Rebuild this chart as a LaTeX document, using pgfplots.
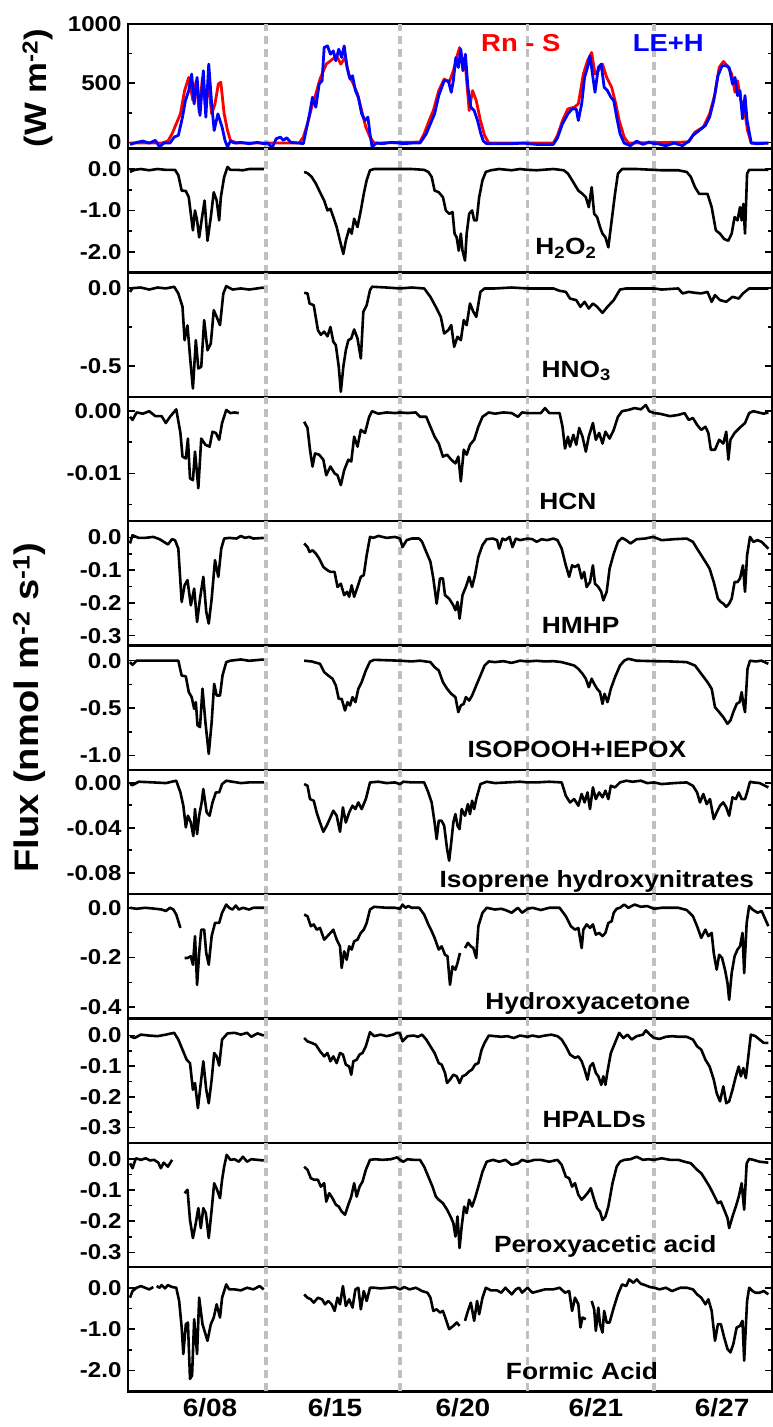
\documentclass[border=0pt]{standalone}
\usepackage{fontspec}
\setmainfont{Liberation Sans}[FakeStretch=1.12]
\usepackage{pgfplots}
\pgfplotsset{compat=1.18}
\definecolor{dgray}{RGB}{192,192,192}
\newcommand\tickfont{\bfseries\fontsize{21.5}{24}\selectfont}
\newcommand\xtickfont{\bfseries\fontsize{25}{28}\selectfont}
\newcommand\labfont{\bfseries\fontsize{23.5}{26}\selectfont}
\newcommand\ylabfont{\bfseries\fontsize{34}{36}\selectfont}
\tikzset{dline/.style={dgray, line width=3.6pt, dash pattern=on 8pt off 5pt}}
\newcommand\vlines{%
 \draw[dline] ({axis cs:350,0}|-{rel axis cs:0,0}) -- ({axis cs:350,0}|-{rel axis cs:0,1});
 \draw[dline] ({axis cs:672,0}|-{rel axis cs:0,0}) -- ({axis cs:672,0}|-{rel axis cs:0,1});
 \draw[dline] ({axis cs:978,0}|-{rel axis cs:0,0}) -- ({axis cs:978,0}|-{rel axis cs:0,1});
 \draw[dline] ({axis cs:1282,0}|-{rel axis cs:0,0}) -- ({axis cs:1282,0}|-{rel axis cs:0,1});}
\pgfplotsset{
 panel/.style={scale only axis, width=644pt, height=124.3pt, anchor=north west,
  xmin=19.2, xmax=1564.8, xtick={216,516,823,1142,1445}, xticklabels={},
  xtick style={draw=none},
  tick align=inside, ytick pos=both, yticklabel pos=left,
  axis line style={line width=2.4pt},
  ytick style={line width=1.6pt, black},
  major tick length=7pt, minor tick length=4pt,
  y tick label style={font=\tickfont, xshift=-3pt},
  x tick label style={font=\xtickfont, yshift=-4pt},
  /pgf/number format/assume math mode=true,
  /pgf/number format/1000 sep={},
  scaled y ticks=false,
  unbounded coords=jump, clip mode=individual,
  cycle list={{black, mark=none}},
  every axis plot/.append style={line width=2.6pt, line join=round},
 },
 p1/.style={y tick label style={/pgf/number format/fixed, /pgf/number format/fixed zerofill, /pgf/number format/precision=1}},
 p2/.style={y tick label style={/pgf/number format/fixed, /pgf/number format/fixed zerofill, /pgf/number format/precision=2}},
}
\begin{document}
\begin{tikzpicture}
\path[use as bounding box] (-128pt,24pt) rectangle (645pt,-1403pt);
% ---------------- Energy
\begin{axis}[panel, at={(0pt,0pt)}, ymin=-50, ymax=1000, ytick={0,500,1000}, minor ytick={250,750}]
\vlines
\addplot[red, line width=2.8pt, mark=none] coordinates {(24,-6) (100,-6) (115,11) (125,73) (135,157) (145,241) (155,437) (165,549) (175,353) (183,521) (190,255) (198,549) (205,297) (212,507) (220,241) (228,325) (236,493) (242,507) (250,241) (258,101) (265,17) (280,-6) (430,-6) (440,45) (450,157) (460,297) (470,409) (480,535) (495,661) (510,703) (520,731) (530,661) (540,717) (550,563) (560,493) (570,409) (580,269) (590,129) (600,45) (610,-6) (720,3) (730,73) (742,185) (752,269) (765,437) (778,535) (790,507) (800,605) (808,717) (815,801) (822,689) (830,605) (838,269) (846,437) (855,353) (865,185) (875,59) (885,-6) (1040,-6) (1050,59) (1062,185) (1075,283) (1090,297) (1100,325) (1112,577) (1122,689) (1132,759) (1140,577) (1148,605) (1158,661) (1168,549) (1180,465) (1190,325) (1198,185) (1210,45) (1220,-6) (1365,3) (1380,87) (1400,129) (1415,241) (1428,409) (1438,633) (1448,683) (1458,647) (1468,577) (1476,423) (1482,521) (1490,353) (1498,297) (1506,101) (1515,-6) (1556,-6)};
\addplot[blue, line width=2.8pt, mark=none] coordinates {(24,-17) (40,0) (55,11) (70,-6) (85,17) (95,-39) (105,-6) (120,-6) (130,45) (140,59) (150,213) (157,353) (165,437) (172,577) (178,325) (185,549) (192,227) (200,605) (206,213) (213,661) (220,325) (226,101) (235,241) (245,129) (252,17) (258,-39) (265,11) (275,-6) (290,0) (310,-11) (330,0) (345,-11) (355,-6) (365,-45) (375,31) (385,45) (392,17) (400,39) (410,0) (430,-6) (440,-11) (445,73) (455,241) (462,381) (470,297) (478,493) (485,521) (490,801) (498,815) (505,745) (512,773) (518,689) (525,787) (532,717) (538,815) (545,633) (552,535) (558,563) (565,437) (572,381) (580,241) (588,185) (595,213) (600,73) (605,-39) (615,-6) (630,-11) (650,0) (670,-6) (680,-11) (700,-6) (720,-6) (735,73) (745,157) (755,241) (765,395) (778,521) (788,521) (795,423) (800,521) (806,717) (812,633) (818,787) (823,605) (829,745) (835,465) (842,297) (850,269) (858,185) (866,73) (872,11) (880,-11) (900,-11) (940,-11) (970,-6) (980,-11) (1000,-17) (1040,-17) (1050,39) (1062,157) (1075,241) (1085,283) (1095,283) (1100,185) (1108,325) (1115,549) (1122,633) (1128,731) (1135,549) (1140,423) (1148,633) (1155,661) (1162,465) (1170,437) (1178,381) (1185,353) (1192,213) (1200,73) (1210,-6) (1225,-28) (1240,11) (1255,-17) (1270,3) (1282,-11) (1290,-11) (1310,-28) (1330,-6) (1350,-28) (1365,11) (1375,59) (1390,101) (1405,143) (1415,213) (1425,353) (1435,563) (1445,647) (1455,647) (1462,633) (1470,493) (1476,549) (1482,395) (1488,437) (1494,199) (1500,395) (1505,185) (1515,-6) (1530,-11) (1556,-6)};
\node[anchor=base, font=\labfont\fontsize{24.5}{26}\selectfont, text=red] at (rel axis cs:0.61,0.775) {Rn - S};
\node[anchor=base, font=\labfont\fontsize{24.5}{26}\selectfont, text=blue] at (rel axis cs:0.839,0.775) {LE+H};
\node[rotate=90, font=\ylabfont\fontsize{31}{33}\selectfont] at (rel axis cs:-0.14,0.485) {(W m\textsuperscript{-2})};
\end{axis}
% ---------------- H2O2
\begin{axis}[panel, p1, at={(0pt,-124.3pt)}, ymin=-2.5, ymax=0.5, ytick={0,-1,-2}, minor ytick={-0.5,-1.5}]
\vlines
\addplot coordinates {(24,-0.07) (35,-0.02) (50,0) (70,-0.03) (90,0) (110,-0.02) (132,-0.02) (140,-0.15) (148,-0.52) (158,-0.53) (165,-0.68) (170,-1.08) (175,-1.48) (180,-1.0) (185,-1.24) (190,-1.65) (197,-1.16) (203,-0.76) (210,-1.73) (218,-1.16) (225,-0.56) (232,-0.76) (238,-1.24) (242,-0.68) (250,-0.19) (258,0.05) (265,-0.02) (280,-0.02) (295,-0.03) (310,0) (345,0) (400,nan) (442,-0.07) (450,-0.1) (460,-0.19) (470,-0.35) (480,-0.56) (490,-0.76) (498,-1.0) (505,-0.96) (512,-1.16) (520,-1.40) (528,-1.73) (536,-2.05) (542,-1.73) (550,-1.44) (556,-1.56) (562,-1.20) (570,-1.40) (578,-1.0) (585,-0.60) (592,-0.27) (600,-0.03) (610,0) (650,0) (672,0) (700,0) (730,-0.02) (740,-0.07) (748,-0.19) (755,-0.52) (765,-0.56) (775,-0.68) (782,-1.0) (790,-1.08) (798,-1.04) (803,-1.56) (808,-1.65) (813,-1.97) (818,-1.56) (822,-1.97) (828,-2.21) (832,-1.56) (838,-1.08) (845,-1.0) (850,-1.24) (856,-1.24) (862,-0.68) (870,-0.27) (878,-0.07) (890,-0.03) (910,0) (940,-0.03) (960,0) (978,-0.02) (1000,-0.03) (1040,0) (1065,-0.03) (1075,-0.11) (1085,-0.27) (1100,-0.52) (1110,-0.60) (1118,-0.68) (1125,-0.92) (1132,-0.44) (1138,-1.08) (1145,-1.16) (1152,-1.40) (1158,-1.56) (1165,-1.65) (1172,-1.89) (1180,-1.24) (1188,-0.60) (1195,-0.11) (1205,0) (1240,0) (1280,-0.02) (1300,-0.03) (1340,-0.03) (1360,-0.07) (1370,-0.19) (1380,-0.44) (1390,-0.60) (1410,-0.60) (1420,-0.92) (1430,-1.48) (1440,-1.56) (1450,-1.69) (1460,-1.73) (1468,-1.56) (1475,-1.16) (1482,-1.24) (1488,-0.92) (1492,-1.24) (1496,-0.84) (1500,-1.56) (1505,-0.11) (1510,-0.02) (1530,-0.02) (1556,-0.02)};
\node[anchor=base, font=\labfont] at (rel axis cs:0.68,0.147) {H\textsubscript{2}O\textsubscript{2}};
\end{axis}
% ---------------- HNO3
\begin{axis}[panel, p1, at={(0pt,-248.6pt)}, ymin=-0.7, ymax=0.1, ytick={0,-0.5}, minor ytick={-0.25}]
\vlines
\addplot coordinates {(24,-0.024) (30,0) (50,0.004) (70,-0.009) (90,0.004) (110,-0.002) (130,0.009) (140,-0.034) (150,-0.12) (155,-0.335) (162,-0.24) (168,-0.44) (175,-0.646) (182,-0.335) (188,-0.517) (195,-0.506) (202,-0.206) (210,-0.40) (218,-0.356) (225,-0.142) (232,-0.185) (240,-0.238) (248,-0.034) (255,0.013) (270,-0.009) (290,-0.002) (310,-0.009) (345,0.004) (400,nan) (442,-0.03) (450,-0.034) (455,-0.099) (465,-0.11) (475,-0.27) (482,-0.30) (490,-0.28) (498,-0.31) (505,-0.25) (512,-0.345) (518,-0.367) (525,-0.506) (530,-0.667) (536,-0.506) (542,-0.40) (548,-0.335) (555,-0.324) (562,-0.266) (570,-0.324) (578,-0.453) (584,-0.152) (592,-0.11) (600,-0.013) (605,0.009) (640,0.004) (672,-0.002) (700,0.004) (730,-0.002) (745,-0.056) (760,-0.131) (770,-0.185) (778,-0.292) (788,-0.27) (795,-0.238) (802,-0.378) (810,-0.313) (818,-0.335) (825,-0.206) (832,-0.238) (840,-0.099) (848,-0.152) (855,-0.185) (865,-0.024) (875,-0.002) (900,-0.002) (940,0.004) (978,-0.002) (1000,-0.002) (1040,-0.002) (1055,-0.017) (1070,-0.024) (1080,-0.067) (1095,-0.077) (1105,-0.12) (1115,-0.088) (1125,-0.131) (1135,-0.099) (1145,-0.12) (1158,-0.159) (1170,-0.12) (1185,-0.077) (1200,-0.009) (1215,-0.002) (1250,-0.002) (1282,-0.002) (1300,-0.009) (1340,-0.002) (1350,-0.034) (1365,-0.024) (1380,-0.03) (1395,-0.034) (1410,-0.024) (1420,-0.088) (1428,-0.045) (1440,-0.077) (1455,-0.088) (1470,-0.056) (1485,-0.067) (1495,-0.034) (1510,-0.002) (1530,-0.002) (1556,-0.002)};
\node[anchor=base, font=\labfont] at (rel axis cs:0.696,0.159) {HNO\textsubscript{3}};
\end{axis}
% ---------------- HCN
\begin{axis}[panel, p2, at={(0pt,-372.9pt)}, ymin=-0.0177, ymax=0.0023, ytick={0,-0.01}, minor ytick={-0.005,-0.015}]
\vlines
\addplot coordinates {(24,-0.0009) (30,-0.0014) (40,-0.0002) (55,-0.0004) (70,0) (85,-0.0008) (100,-0.0008) (110,-0.0019) (120,-0.0009) (135,0.0003) (145,-0.0035) (150,-0.0073) (158,-0.0076) (163,-0.0044) (168,-0.0108) (175,-0.0111) (180,-0.0065) (188,-0.0124) (195,-0.0044) (205,-0.0054) (215,-0.0057) (222,-0.0033) (230,-0.0035) (238,-0.0046) (245,-0.0019) (255,0.0002) (265,-0.0003) (275,-0.0002) (285,-0.0003) (350,nan) (442,-0.0017) (450,-0.0027) (456,-0.0062) (462,-0.0089) (468,-0.0068) (478,-0.0070) (488,-0.0078) (495,-0.0103) (505,-0.0089) (515,-0.0100) (522,-0.0103) (530,-0.0119) (538,-0.0095) (548,-0.0078) (555,-0.0081) (562,-0.0041) (570,-0.0057) (578,-0.0030) (588,-0.0035) (598,-0.0009) (605,0) (620,-0.0004) (640,-0.0002) (660,-0.0003) (672,-0.0002) (690,-0.0003) (710,-0.0002) (720,-0.0009) (735,-0.0009) (745,-0.0025) (755,-0.0041) (765,-0.0052) (775,-0.0073) (785,-0.0070) (795,-0.0078) (805,-0.0084) (812,-0.0073) (818,-0.0113) (825,-0.0062) (832,-0.0070) (840,-0.0054) (850,-0.0046) (860,-0.0025) (870,-0.0009) (885,-0.0002) (900,-0.0004) (920,-0.0002) (940,-0.0003) (955,-0.0009) (965,-0.0002) (978,-0.0003) (990,-0.0003) (1010,-0.0003) (1020,0.0005) (1030,-0.0003) (1055,-0.0003) (1062,-0.0025) (1068,-0.0060) (1075,-0.0041) (1080,-0.0057) (1088,-0.0038) (1095,-0.0054) (1102,-0.0027) (1110,-0.0041) (1118,-0.0065) (1125,-0.0041) (1135,-0.0019) (1142,-0.0046) (1150,-0.0035) (1158,-0.0052) (1165,-0.0033) (1175,-0.0044) (1185,-0.0030) (1195,-0.0009) (1205,0) (1220,0.0002) (1235,0.0005) (1250,0.0003) (1262,0.0010) (1270,0) (1282,-0.0003) (1295,-0.0004) (1320,-0.0008) (1340,-0.0006) (1355,-0.0003) (1365,-0.0014) (1375,-0.0011) (1385,-0.0022) (1395,-0.0030) (1405,-0.0025) (1412,-0.0035) (1418,-0.0062) (1428,-0.0062) (1438,-0.0046) (1448,-0.0052) (1455,-0.0033) (1460,-0.0078) (1465,-0.0046) (1475,-0.0035) (1490,-0.0025) (1500,-0.0019) (1510,-0.0003) (1520,0) (1545,-0.0004) (1556,-0.0002)};
\node[anchor=base, font=\labfont] at (rel axis cs:0.683,0.091) {HCN};
\end{axis}
% ---------------- HMHP
\begin{axis}[panel, p1, at={(0pt,-497.2pt)}, ymin=-0.33, ymax=0.05, ytick={0,-0.1,-0.2,-0.3}, minor ytick={-0.05,-0.15,-0.25}]
\vlines
\addplot coordinates {(24,-0.018) (30,0.007) (45,-0.001) (60,-0.001) (80,0.002) (95,-0.005) (105,-0.013) (115,-0.021) (125,-0.005) (132,-0.008) (140,-0.034) (148,-0.197) (155,-0.146) (162,-0.13) (170,-0.207) (178,-0.156) (185,-0.258) (192,-0.187) (200,-0.12) (207,-0.227) (213,-0.263) (220,-0.187) (228,-0.069) (236,-0.12) (243,-0.034) (250,-0.003) (262,-0.001) (280,-0.003) (290,0.005) (300,-0.001) (310,0.002) (320,-0.003) (345,-0.001) (400,nan) (442,-0.018) (450,-0.029) (455,-0.044) (462,-0.039) (470,-0.049) (478,-0.064) (488,-0.09) (498,-0.10) (505,-0.105) (515,-0.105) (522,-0.151) (530,-0.141) (538,-0.176) (545,-0.166) (550,-0.181) (556,-0.146) (562,-0.181) (570,-0.151) (578,-0.12) (585,-0.115) (592,-0.054) (600,0.002) (608,-0.001) (620,0.005) (640,-0.001) (660,0.002) (672,-0.003) (678,-0.029) (688,-0.008) (700,-0.003) (718,-0.003) (725,-0.013) (735,-0.044) (745,-0.074) (752,-0.125) (760,-0.202) (768,-0.125) (775,-0.125) (780,-0.176) (790,-0.187) (800,-0.207) (805,-0.222) (810,-0.197) (815,-0.248) (822,-0.176) (830,-0.151) (838,-0.12) (845,-0.151) (852,-0.115) (860,-0.059) (870,-0.023) (880,-0.005) (895,-0.003) (905,-0.008) (910,-0.034) (918,-0.003) (925,-0.008) (935,0.002) (942,-0.029) (950,-0.003) (960,-0.008) (978,-0.003) (990,-0.005) (1000,-0.013) (1012,-0.005) (1025,-0.008) (1040,-0.003) (1050,-0.008) (1060,-0.034) (1070,-0.085) (1078,-0.12) (1085,-0.085) (1092,-0.09) (1100,-0.083) (1108,-0.125) (1114,-0.105) (1120,-0.151) (1128,-0.136) (1135,-0.085) (1140,-0.141) (1148,-0.151) (1155,-0.166) (1160,-0.192) (1168,-0.166) (1175,-0.095) (1185,-0.049) (1195,-0.013) (1205,-0.001) (1215,-0.008) (1225,-0.018) (1240,-0.005) (1260,-0.003) (1280,0.002) (1300,-0.008) (1330,-0.005) (1360,-0.003) (1375,-0.013) (1385,-0.034) (1395,-0.054) (1405,-0.074) (1415,-0.095) (1425,-0.136) (1435,-0.187) (1442,-0.197) (1448,-0.202) (1455,-0.212) (1462,-0.202) (1468,-0.187) (1475,-0.136) (1482,-0.136) (1488,-0.125) (1495,-0.085) (1500,-0.166) (1505,-0.054) (1512,0.002) (1520,-0.013) (1530,-0.008) (1540,-0.013) (1556,-0.034)};
\node[anchor=base, font=\labfont] at (rel axis cs:0.703,0.099) {HMHP};
\end{axis}
% ---------------- ISOPOOH+IEPOX
\begin{axis}[panel, p1, at={(0pt,-621.5pt)}, ymin=-1.15, ymax=0.16, ytick={0,-0.5,-1}, minor ytick={-0.25,-0.75}]
\vlines
\addplot coordinates {(24,-0.015) (30,-0.044) (40,0) (80,0) (140,0) (148,-0.157) (158,-0.165) (165,-0.33) (172,-0.384) (178,-0.507) (182,-0.437) (186,-0.68) (192,-0.70) (198,-0.296) (205,-0.648) (213,-0.982) (220,-0.648) (226,-0.244) (232,-0.367) (240,-0.367) (246,-0.157) (255,-0.015) (265,0) (290,0.013) (310,-0.001) (345,0.013) (400,nan) (442,0) (460,-0.008) (480,-0.033) (490,-0.12) (500,-0.157) (510,-0.19) (518,-0.26) (525,-0.402) (532,-0.402) (540,-0.525) (546,-0.437) (552,-0.472) (558,-0.384) (565,-0.437) (572,-0.296) (580,-0.226) (590,-0.103) (600,-0.01) (610,0.009) (672,0) (700,-0.008) (720,0) (745,-0.015) (755,-0.068) (765,-0.103) (775,-0.226) (785,-0.296) (795,-0.349) (805,-0.384) (812,-0.542) (818,-0.472) (825,-0.455) (830,-0.384) (838,-0.42) (845,-0.367) (855,-0.261) (865,-0.157) (875,-0.051) (885,-0.008) (900,-0.015) (920,-0.005) (940,-0.023) (960,0) (978,-0.008) (1000,-0.001) (1020,-0.008) (1040,-0.005) (1060,-0.015) (1075,-0.033) (1090,-0.051) (1100,-0.086) (1110,-0.138) (1118,-0.19) (1125,-0.279) (1132,-0.19) (1138,-0.244) (1145,-0.296) (1152,-0.331) (1158,-0.455) (1163,-0.349) (1170,-0.437) (1178,-0.296) (1188,-0.174) (1200,-0.051) (1210,0) (1220,0.02) (1240,0) (1280,-0.005) (1320,-0.008) (1360,-0.015) (1380,-0.051) (1395,-0.138) (1410,-0.226) (1420,-0.296) (1428,-0.49) (1438,-0.542) (1448,-0.596) (1458,-0.665) (1465,-0.63) (1472,-0.542) (1480,-0.455) (1487,-0.437) (1492,-0.331) (1496,-0.455) (1500,-0.542) (1506,-0.086) (1512,0) (1525,-0.008) (1540,0) (1556,-0.033)};
\node[anchor=base, font=\labfont] at (rel axis cs:0.697,0.099) {ISOPOOH+IEPOX};
\node[rotate=90, font=\ylabfont] at (rel axis cs:-0.153,0.5) {Flux (nmol m\textsuperscript{-2} s\textsuperscript{-1})};
\end{axis}
% ---------------- Isoprene hydroxynitrates
\begin{axis}[panel, p2, at={(0pt,-745.8pt)}, ymin=-0.099, ymax=0.0115, ytick={0,-0.04,-0.08}, minor ytick={-0.02,-0.06}]
\vlines
\addplot coordinates {(24,-0.0012) (30,-0.0021) (45,0.0009) (80,0.0003) (110,-0.0003) (135,0.0018) (145,-0.0086) (152,-0.0204) (158,-0.0397) (163,-0.0293) (170,-0.0353) (176,-0.0474) (180,-0.0234) (185,-0.0456) (190,-0.0293) (196,-0.0175) (200,-0.0056) (208,-0.0264) (215,-0.0293) (222,-0.0175) (230,-0.0086) (238,-0.0086) (245,-0.0012) (255,0.0018) (270,0.0009) (290,-0.0003) (310,0.0003) (345,0.0003) (400,nan) (442,-0.0012) (450,-0.0027) (456,-0.0145) (465,-0.016) (472,-0.0264) (480,-0.0353) (488,-0.0436) (496,-0.0382) (505,-0.0308) (512,-0.0249) (520,-0.0293) (528,-0.0436) (535,-0.0219) (542,-0.0353) (550,-0.0264) (558,-0.0204) (565,-0.0234) (572,-0.0175) (580,-0.0234) (590,-0.0145) (600,0.0003) (620,0.0009) (640,-0.0003) (660,0.0003) (672,-0.0012) (680,0.0009) (700,0.0003) (730,0.0003) (740,-0.0086) (748,-0.0175) (755,-0.0353) (760,-0.0501) (765,-0.0338) (772,-0.0338) (778,-0.0382) (785,-0.059) (790,-0.0693) (795,-0.053) (800,-0.0353) (805,-0.0279) (810,-0.0382) (815,-0.0412) (820,-0.0234) (828,-0.0293) (835,-0.019) (840,-0.0279) (845,-0.016) (850,-0.0234) (855,-0.0145) (865,-0.0012) (880,0.0009) (900,-0.0003) (930,0.0003) (960,0.0009) (978,0.0003) (1000,0.0003) (1030,0.0009) (1060,0.0003) (1070,-0.0116) (1080,-0.0175) (1090,-0.0145) (1100,-0.0204) (1108,-0.01) (1115,-0.0175) (1122,-0.0086) (1128,-0.0234) (1135,-0.0041) (1142,-0.0145) (1150,-0.0086) (1158,-0.013) (1165,-0.0071) (1172,-0.0145) (1178,-0.0027) (1188,-0.0041) (1200,0.0003) (1215,0.0018) (1230,0.0009) (1250,0.0018) (1265,-0.0003) (1282,0.0003) (1300,-0.0012) (1330,-0.0003) (1360,0.0003) (1375,-0.0027) (1385,-0.0086) (1392,-0.0175) (1400,-0.01) (1408,-0.019) (1416,-0.0145) (1425,-0.0323) (1432,-0.0264) (1440,-0.0204) (1448,-0.0175) (1455,-0.0219) (1462,-0.0293) (1470,-0.013) (1478,-0.0145) (1485,-0.0086) (1492,-0.0145) (1500,-0.0145) (1505,-0.0086) (1512,0.0009) (1520,0.0003) (1535,-0.0003) (1556,-0.0041)};
\node[anchor=base, font=\labfont] at (rel axis cs:0.728,0.051) {Isoprene hydroxynitrates};
\end{axis}
% ---------------- Hydroxyacetone
\begin{axis}[panel, p1, at={(0pt,-870.1pt)}, ymin=-0.445, ymax=0.055, ytick={0,-0.2,-0.4}, minor ytick={-0.1,-0.3}]
\vlines
\addplot coordinates {(24,0) (40,-0.004) (60,0) (80,-0.003) (100,-0.007) (110,-0.013) (120,0) (128,-0.007) (135,-0.027) (145,-0.081) (150,nan) (155,-0.202) (162,-0.202) (170,-0.195) (175,-0.229) (180,-0.114) (185,-0.31) (190,-0.182) (195,-0.088) (202,-0.088) (207,-0.182) (213,-0.229) (220,-0.114) (228,-0.061) (238,-0.061) (245,-0.02) (255,0.013) (262,0) (270,-0.007) (278,0.009) (285,-0.007) (295,0) (310,-0.007) (320,0) (345,0) (400,nan) (442,-0.027) (450,-0.034) (458,-0.074) (465,-0.067) (472,-0.088) (480,-0.081) (490,-0.128) (498,-0.114) (505,-0.101) (512,-0.088) (520,-0.128) (528,-0.155) (532,-0.242) (538,-0.175) (544,-0.209) (550,-0.155) (556,-0.168) (562,-0.135) (570,-0.128) (578,-0.101) (585,-0.088) (592,-0.061) (600,-0.007) (610,0.004) (640,0) (660,0) (672,-0.004) (678,0.013) (685,0) (692,0.007) (700,0) (718,0) (730,-0.027) (740,-0.067) (748,-0.094) (755,-0.121) (765,-0.168) (772,-0.155) (780,-0.189) (786,-0.195) (792,-0.31) (798,-0.236) (805,-0.249) (810,-0.222) (816,-0.182) (822,nan) (828,-0.162) (835,-0.141) (842,-0.155) (848,-0.162) (855,-0.202) (860,-0.074) (870,-0.02) (880,0) (900,-0.007) (915,-0.004) (925,-0.009) (940,-0.02) (955,0) (965,-0.02) (978,-0.004) (990,0) (1010,-0.009) (1030,0) (1055,0) (1070,-0.034) (1082,-0.074) (1092,-0.088) (1100,-0.081) (1108,-0.162) (1112,-0.088) (1120,-0.067) (1128,-0.081) (1135,-0.067) (1142,-0.108) (1150,-0.101) (1158,-0.114) (1165,-0.101) (1172,-0.061) (1180,-0.054) (1185,-0.02) (1192,-0.004) (1200,0) (1210,0.013) (1220,0) (1235,0.013) (1250,0.004) (1265,0.007) (1282,-0.004) (1300,0) (1340,0) (1360,-0.009) (1375,-0.034) (1385,-0.074) (1395,-0.121) (1405,-0.088) (1412,-0.114) (1420,-0.101) (1425,-0.182) (1432,-0.249) (1438,-0.189) (1445,-0.202) (1452,-0.249) (1458,-0.303) (1462,-0.37) (1468,-0.263) (1475,-0.195) (1482,-0.168) (1488,-0.155) (1494,-0.101) (1498,-0.263) (1504,-0.061) (1510,0.007) (1518,-0.007) (1530,-0.02) (1540,-0.013) (1556,-0.074)};
\node[anchor=base, font=\labfont] at (rel axis cs:0.714,0.075) {Hydroxyacetone};
\end{axis}
% ---------------- HPALDs
\begin{axis}[panel, p1, at={(0pt,-994.4pt)}, ymin=-0.35, ymax=0.056, ytick={0,-0.1,-0.2,-0.3}, minor ytick={-0.05,-0.15,-0.25}]
\vlines
\addplot coordinates {(24,-0.002) (35,-0.008) (50,0.003) (70,0) (90,-0.002) (110,0.003) (130,0.009) (140,-0.013) (150,-0.046) (160,-0.079) (168,-0.09) (175,-0.177) (180,-0.155) (187,-0.237) (193,-0.166) (200,-0.084) (207,-0.177) (213,-0.221) (220,-0.144) (226,-0.057) (232,-0.068) (238,-0.098) (245,-0.013) (258,0.007) (275,0.009) (290,0.003) (305,0.009) (315,-0.004) (330,0.007) (345,0) (400,nan) (442,-0.008) (450,-0.019) (460,-0.024) (470,-0.03) (480,-0.051) (490,-0.068) (498,-0.057) (505,-0.084) (512,-0.068) (520,-0.09) (528,-0.057) (535,-0.062) (542,-0.095) (550,-0.101) (555,-0.128) (560,-0.084) (568,-0.079) (575,-0.062) (582,-0.057) (590,-0.035) (600,0.011) (610,-0.002) (625,0.003) (640,-0.002) (655,0.003) (665,0.009) (672,0.007) (678,-0.019) (690,-0.002) (705,0) (715,-0.004) (725,0.003) (735,-0.013) (745,-0.035) (755,-0.057) (765,-0.09) (772,-0.095) (780,-0.122) (785,-0.155) (792,-0.144) (800,-0.128) (808,-0.133) (815,-0.155) (822,-0.133) (830,-0.128) (838,-0.117) (845,-0.111) (852,-0.095) (860,-0.09) (868,-0.046) (875,-0.024) (885,0) (900,-0.002) (915,-0.004) (930,-0.002) (945,-0.008) (960,0) (978,-0.004) (990,0) (1005,-0.004) (1020,0) (1035,0.003) (1050,-0.002) (1060,-0.013) (1070,-0.035) (1080,-0.062) (1092,-0.073) (1100,-0.068) (1108,-0.084) (1115,-0.111) (1122,-0.144) (1128,-0.101) (1135,-0.09) (1142,-0.122) (1148,-0.133) (1155,-0.161) (1160,-0.133) (1165,-0.161) (1170,-0.117) (1178,-0.057) (1188,-0.024) (1198,0.009) (1208,-0.008) (1218,0.003) (1228,-0.013) (1240,-0.002) (1255,0.003) (1262,0.017) (1272,0.003) (1282,-0.008) (1295,-0.011) (1310,-0.004) (1325,-0.002) (1340,-0.004) (1360,-0.004) (1375,-0.013) (1385,-0.035) (1395,-0.046) (1405,-0.079) (1415,-0.101) (1425,-0.144) (1432,-0.188) (1440,-0.215) (1448,-0.166) (1455,-0.221) (1462,-0.215) (1470,-0.177) (1478,-0.133) (1485,-0.101) (1490,-0.133) (1496,-0.106) (1502,-0.139) (1508,-0.068) (1514,0.003) (1525,-0.002) (1535,-0.013) (1545,-0.024) (1556,-0.024)};
\node[anchor=base, font=\labfont] at (rel axis cs:0.724,0.119) {HPALDs};
\end{axis}
% ---------------- Peroxyacetic acid
\begin{axis}[panel, p1, at={(0pt,-1118.7pt)}, ymin=-0.347, ymax=0.052, ytick={0,-0.1,-0.2,-0.3}, minor ytick={-0.05,-0.15,-0.25}]
\vlines
\addplot coordinates {(24,-0.014) (30,-0.03) (38,0.002) (50,-0.003) (62,0.002) (72,-0.005) (82,-0.003) (92,-0.012) (98,-0.03) (105,-0.012) (115,-0.025) (125,-0.003) (140,nan) (155,-0.11) (162,-0.099) (168,-0.196) (175,-0.254) (182,-0.206) (188,-0.158) (194,-0.222) (200,-0.158) (206,-0.174) (213,-0.254) (220,-0.163) (226,-0.078) (233,-0.099) (240,-0.126) (245,-0.067) (250,-0.025) (256,0.013) (265,-0.003) (275,-0.001) (285,-0.009) (295,0.007) (305,-0.009) (315,-0.001) (330,-0.003) (345,-0.005) (400,nan) (442,-0.025) (450,-0.035) (458,-0.062) (466,-0.067) (475,-0.067) (482,-0.089) (490,-0.078) (495,-0.137) (502,-0.11) (510,-0.126) (518,-0.147) (525,-0.153) (532,-0.169) (540,-0.179) (548,-0.147) (555,-0.121) (562,-0.078) (568,-0.121) (575,-0.089) (582,-0.073) (590,-0.035) (600,-0.003) (612,-0.001) (630,-0.003) (650,-0.001) (665,0.005) (672,-0.003) (680,-0.009) (690,-0.001) (705,-0.003) (720,-0.003) (730,-0.025) (740,-0.057) (750,-0.089) (758,-0.121) (765,-0.131) (775,-0.142) (785,-0.163) (795,-0.19) (800,-0.206) (805,-0.249) (810,-0.185) (815,-0.286) (820,-0.217) (826,-0.153) (832,-0.174) (838,-0.131) (845,-0.153) (852,-0.126) (860,-0.089) (870,-0.041) (880,-0.009) (895,-0.003) (910,-0.009) (925,-0.003) (940,-0.019) (955,-0.014) (965,-0.003) (978,-0.009) (995,-0.003) (1010,-0.003) (1030,-0.009) (1050,-0.003) (1060,-0.019) (1070,-0.057) (1078,-0.062) (1085,-0.089) (1092,-0.078) (1100,-0.115) (1108,-0.131) (1115,-0.121) (1122,-0.11) (1130,-0.094) (1138,-0.131) (1145,-0.158) (1152,-0.169) (1158,-0.196) (1165,-0.185) (1172,-0.153) (1182,-0.078) (1192,-0.025) (1200,-0.009) (1210,-0.003) (1225,-0.001) (1240,0.007) (1255,-0.003) (1268,-0.001) (1282,-0.003) (1300,0.002) (1320,-0.003) (1340,-0.003) (1355,-0.009) (1370,-0.014) (1385,-0.035) (1395,-0.046) (1405,-0.067) (1415,-0.089) (1425,-0.115) (1435,-0.142) (1442,-0.137) (1450,-0.163) (1458,-0.19) (1462,-0.222) (1470,-0.185) (1478,-0.153) (1485,-0.121) (1492,-0.078) (1498,-0.163) (1504,-0.014) (1510,0) (1520,-0.003) (1535,-0.009) (1556,-0.012)};
\node[anchor=base, font=\labfont] at (rel axis cs:0.741,0.115) {Peroxyacetic acid};
\end{axis}
% ---------------- Formic acid
\begin{axis}[panel, p1, at={(0pt,-1243.0pt)}, ymin=-2.5, ymax=0.5, ytick={0,-1,-2}, minor ytick={-0.5,-1.5}, xticklabels={6/08,6/15,6/20,6/21,6/27}]
\vlines
\addplot coordinates {(24,-0.24) (30,-0.08) (40,0) (50,0.04) (60,0) (70,-0.04) (80,0.016) (84,nan) (88,0.04) (95,0) (100,0.064) (108,-0.016) (115,0.064) (125,0.016) (135,0) (142,-0.32) (148,-0.96) (152,-1.6) (158,-0.88) (163,-0.84) (168,-2.2) (173,-2.12) (178,-0.76) (185,-1.6) (190,-0.24) (198,-0.88) (210,-1.28) (218,-0.88) (225,-0.72) (232,-0.4) (240,-0.72) (245,-0.24) (255,0.08) (262,-0.04) (275,-0.04) (290,-0.064) (305,0) (320,-0.04) (335,0.04) (345,-0.04) (400,nan) (442,-0.16) (450,-0.24) (458,-0.28) (465,-0.36) (475,-0.24) (485,-0.28) (492,-0.4) (500,-0.32) (508,-0.4) (515,-0.56) (522,-0.24) (528,-0.4) (535,0.04) (542,-0.44) (550,-0.28) (558,-0.48) (565,-0.04) (572,0) (578,-0.52) (585,-0.08) (592,-0.32) (600,0) (610,0) (625,-0.016) (645,0) (660,0.016) (672,-0.04) (682,0.016) (695,-0.04) (710,0) (725,-0.08) (738,-0.12) (745,-0.24) (752,-0.56) (760,-0.52) (768,-0.6) (775,-0.56) (782,-0.76) (790,-1.0) (800,-0.92) (808,-0.84) (815,-0.92) (822,nan) (828,-0.8) (835,-0.56) (842,-0.36) (850,-0.8) (857,-0.32) (862,-0.64) (870,-0.24) (878,0) (890,-0.064) (905,-0.064) (915,-0.12) (925,0) (940,-0.16) (950,-0.04) (958,0) (965,-0.12) (978,0) (990,-0.12) (1005,-0.08) (1020,-0.04) (1040,-0.04) (1055,0) (1068,-0.12) (1078,-0.08) (1085,-0.56) (1092,-0.24) (1100,-0.4) (1105,-0.96) (1110,-0.72) (1118,-0.76) (1125,nan) (1132,-0.32) (1138,-0.52) (1142,-1.04) (1148,-0.48) (1152,-0.88) (1158,-1.08) (1162,-0.56) (1168,-0.84) (1175,-0.84) (1185,-0.48) (1195,-0.16) (1205,0.08) (1215,0.04) (1222,0.2) (1232,0.12) (1240,0.2) (1250,0.096) (1260,0.064) (1272,0.016) (1282,0) (1295,-0.04) (1310,0) (1325,-0.08) (1345,0) (1360,0) (1375,-0.04) (1385,-0.16) (1395,-0.24) (1405,-0.4) (1412,-0.28) (1420,-0.56) (1428,-1.28) (1435,-0.88) (1442,-0.88) (1450,-1.2) (1458,-1.48) (1465,-1.56) (1472,-1.36) (1480,-0.96) (1488,-0.92) (1494,-0.8) (1498,-1.76) (1505,-0.32) (1510,0) (1518,-0.08) (1525,-0.12) (1535,-0.12) (1545,-0.08) (1556,-0.16)};
\node[anchor=base, font=\labfont] at (rel axis cs:0.705,0.099) {Formic Acid};
\end{axis}
\end{tikzpicture}
\end{document}
